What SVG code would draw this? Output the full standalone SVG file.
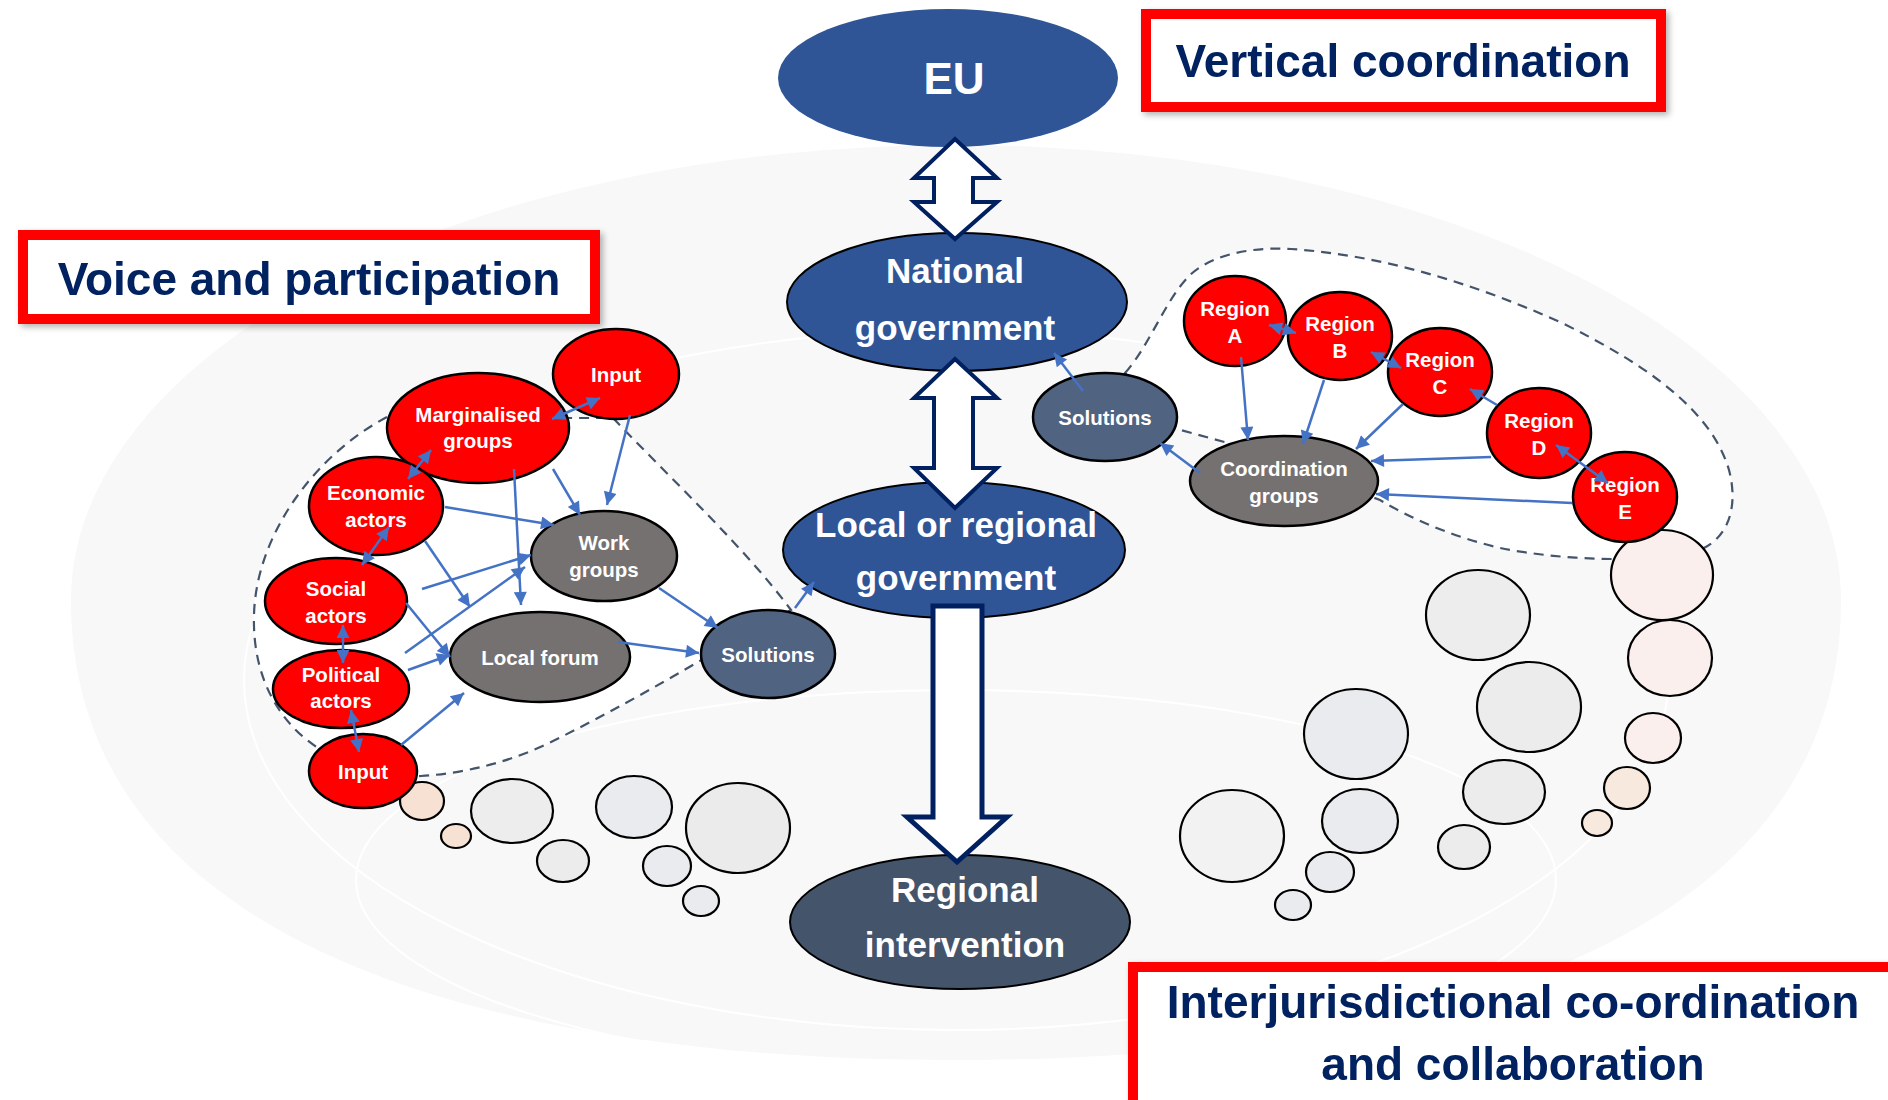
<svg xmlns="http://www.w3.org/2000/svg" width="1888" height="1100" viewBox="0 0 1888 1100">
  <style>
    .title { font-family: "Liberation Sans", Arial, sans-serif; font-weight: bold; font-size: 46px; fill: #002060; text-anchor: middle; }
    .big { font-family: "Liberation Sans", Arial, sans-serif; font-weight: bold; font-size: 35px; fill: #ffffff; text-anchor: middle; }
    .sm { font-family: "Liberation Sans", Arial, sans-serif; font-weight: bold; font-size: 20.5px; fill: #ffffff; text-anchor: middle; }
    .red { fill: #ff0000; stroke: #000000; stroke-width: 2.5; }
    .grey { fill: #767171; stroke: #000000; stroke-width: 2.5; }
    .sol { fill: #506380; stroke: #000000; stroke-width: 2.5; }
    .gov { fill: #2f5597; stroke: #000000; stroke-width: 2; }
    .box { fill: #ffffff; stroke: #ff0000; stroke-width: 10; }
    .blk { fill: #ffffff; stroke: #002060; stroke-width: 4; stroke-linejoin: miter; }
    .c { stroke: #4472c4; stroke-width: 2.5; fill: none; marker-end: url(#ah); }
    .d { stroke: #4472c4; stroke-width: 2.5; fill: none; marker-end: url(#ah); marker-start: url(#ah); }
    .dash { fill: #ffffff; stroke: #44546a; stroke-width: 2.2; stroke-dasharray: 10 7; }
    .ring { fill: none; stroke: #ffffff; stroke-width: 2; }
    .bg { stroke: #000000; stroke-width: 2.2; }
  </style>
  <defs>
    <marker id="ah" viewBox="0 0 10 10" refX="10" refY="5" markerWidth="16" markerHeight="13" markerUnits="userSpaceOnUse" orient="auto-start-reverse">
      <path d="M0,0 L10,5 L0,10 Z" fill="#4472c4"/>
    </marker>
    <filter id="shadow" x="-10%" y="-20%" width="120%" height="150%">
      <feDropShadow dx="3" dy="3" stdDeviation="3" flood-color="#000000" flood-opacity="0.3"/>
    </filter>
  </defs>

  <rect x="0" y="0" width="1888" height="1100" fill="#ffffff"/>

  <!-- background -->
  <g id="background">
    <path d="M71,600 A885,455 0 0 1 1841,600 C1841,950 1412,1060 956,1060 C500,1060 71,950 71,600 Z" fill="#f8f8f8"/>
    <ellipse class="ring" cx="956" cy="680" rx="712" ry="350"/>
    <ellipse class="ring" cx="956" cy="880" rx="600" ry="190"/>
  </g>

  <!-- cluster outlines -->
  <g id="cluster-outlines">
    <path class="dash" d="M387,417 C315,455 256,535 254,615 C252,680 282,730 330,755 C360,771 390,778 421,776 C470,773 512,760 545,745 C600,718 650,690 698,662 L791,610 C745,548 675,483 613,418 L560,418 Z"/>
    <path class="dash" d="M1125,373 C1150,345 1165,300 1190,275 C1215,252 1258,247 1291,249 C1380,255 1470,282 1560,322 C1650,366 1712,412 1729,470 C1740,512 1725,545 1690,553 C1640,563 1560,560 1500,548 C1450,536 1410,518 1380,500 L1228,443 L1177,429 Z"/>
  </g>

  <!-- bubbles -->
  <g id="bubbles" class="bg">
    <ellipse cx="422" cy="801" rx="22" ry="19" fill="#f6e1d3"/>
    <ellipse cx="456" cy="836" rx="15" ry="12" fill="#f6e1d3"/>
    <ellipse cx="512" cy="811" rx="41" ry="32" fill="#ededed"/>
    <ellipse cx="563" cy="861" rx="26" ry="21" fill="#ececec"/>
    <ellipse cx="634" cy="807" rx="38" ry="31" fill="#e9ebef"/>
    <ellipse cx="667" cy="866" rx="24" ry="20" fill="#e9ebef"/>
    <ellipse cx="701" cy="901" rx="18" ry="15" fill="#e9ebef"/>
    <ellipse cx="738" cy="828" rx="52" ry="45" fill="#ebebeb"/>

    <ellipse cx="1662" cy="575" rx="51" ry="45" fill="#fbefee"/>
    <ellipse cx="1670" cy="658" rx="42" ry="38" fill="#fbefee"/>
    <ellipse cx="1653" cy="738" rx="28" ry="25" fill="#fbefee"/>
    <ellipse cx="1627" cy="788" rx="23" ry="21" fill="#f8e9de"/>
    <ellipse cx="1597" cy="823" rx="15" ry="13" fill="#f8e9de"/>
    <ellipse cx="1478" cy="615" rx="52" ry="45" fill="#ededed"/>
    <ellipse cx="1529" cy="707" rx="52" ry="45" fill="#ececec"/>
    <ellipse cx="1504" cy="792" rx="41" ry="32" fill="#ececec"/>
    <ellipse cx="1464" cy="847" rx="26" ry="22" fill="#ececec"/>
    <ellipse cx="1356" cy="734" rx="52" ry="45" fill="#e9ebef"/>
    <ellipse cx="1360" cy="821" rx="38" ry="32" fill="#e9ebef"/>
    <ellipse cx="1330" cy="872" rx="24" ry="20" fill="#e9ebef"/>
    <ellipse cx="1293" cy="905" rx="18" ry="15" fill="#e9ebef"/>
    <ellipse cx="1232" cy="836" rx="52" ry="46" fill="#f2f2f2"/>
  </g>

  <!-- title boxes -->
  <g id="title-vertical" filter="url(#shadow)">
    <rect class="box" x="1146" y="14" width="515" height="93"/>
    <text class="title" x="1403" y="77">Vertical coordination</text>
  </g>
  <g id="title-voice" filter="url(#shadow)">
    <rect class="box" x="23" y="235" width="572" height="84"/>
    <text class="title" x="309" y="295">Voice and participation</text>
  </g>
  <g id="title-inter" filter="url(#shadow)">
    <rect class="box" x="1133" y="967" width="800" height="200"/>
    <text class="title" x="1513" y="1018">Interjurisdictional co-ordination</text>
    <text class="title" x="1513" y="1080">and collaboration</text>
  </g>

  <!-- central column -->
  <g id="node-eu">
    <ellipse cx="948" cy="78" rx="170" ry="69" fill="#2f5597"/>
    <text class="big" x="954" y="94" style="font-size:44px">EU</text>
  </g>
  <g id="node-national">
    <ellipse class="gov" cx="957" cy="302" rx="170" ry="69"/>
    <text class="big" x="955" y="283">National</text>
    <text class="big" x="955" y="340">government</text>
  </g>
  <g id="node-local-gov">
    <ellipse class="gov" cx="954" cy="550" rx="171" ry="68"/>
    <text class="big" x="956" y="537">Local or regional</text>
    <text class="big" x="956" y="590">government</text>
  </g>
  <g id="node-regional-intervention">
    <ellipse cx="960" cy="922" rx="170" ry="67" fill="#44546a" stroke="#000000" stroke-width="2"/>
    <text class="big" x="965" y="902">Regional</text>
    <text class="big" x="965" y="957">intervention</text>
  </g>

  <!-- left cluster -->
  <g id="node-input-top">
    <ellipse class="red" cx="616" cy="374" rx="63" ry="45"/>
    <text class="sm" x="616" y="382">Input</text>
  </g>
  <g id="node-marginalised">
    <ellipse class="red" cx="478" cy="428" rx="91" ry="55"/>
    <text class="sm" x="478" y="422">Marginalised</text>
    <text class="sm" x="478" y="448">groups</text>
  </g>
  <g id="node-economic">
    <ellipse class="red" cx="376" cy="506" rx="67" ry="49"/>
    <text class="sm" x="376" y="500">Economic</text>
    <text class="sm" x="376" y="527">actors</text>
  </g>
  <g id="node-social">
    <ellipse class="red" cx="336" cy="601" rx="71" ry="43"/>
    <text class="sm" x="336" y="596">Social</text>
    <text class="sm" x="336" y="623">actors</text>
  </g>
  <g id="node-political">
    <ellipse class="red" cx="341" cy="689" rx="68" ry="39"/>
    <text class="sm" x="341" y="682">Political</text>
    <text class="sm" x="341" y="708">actors</text>
  </g>
  <g id="node-input-bottom">
    <ellipse class="red" cx="363" cy="771" rx="54" ry="37"/>
    <text class="sm" x="363" y="779">Input</text>
  </g>
  <g id="node-work-groups">
    <ellipse class="grey" cx="604" cy="556" rx="73" ry="45"/>
    <text class="sm" x="604" y="550">Work</text>
    <text class="sm" x="604" y="577">groups</text>
  </g>
  <g id="node-local-forum">
    <ellipse class="grey" cx="540" cy="657" rx="90" ry="45"/>
    <text class="sm" x="540" y="665">Local forum</text>
  </g>
  <g id="node-solutions-left">
    <ellipse class="sol" cx="768" cy="654" rx="67" ry="44"/>
    <text class="sm" x="768" y="662">Solutions</text>
  </g>

  <!-- right cluster -->
  <g id="node-solutions-right">
    <ellipse class="sol" cx="1105" cy="417" rx="72" ry="44"/>
    <text class="sm" x="1105" y="425">Solutions</text>
  </g>
  <g id="node-coordination">
    <ellipse class="grey" cx="1284" cy="481" rx="94" ry="45"/>
    <text class="sm" x="1284" y="476">Coordination</text>
    <text class="sm" x="1284" y="503">groups</text>
  </g>
  <g id="node-region-a">
    <ellipse class="red" cx="1235" cy="321" rx="51" ry="45"/>
    <text class="sm" x="1235" y="316">Region</text>
    <text class="sm" x="1235" y="343">A</text>
  </g>
  <g id="node-region-b">
    <ellipse class="red" cx="1340" cy="336" rx="52" ry="44"/>
    <text class="sm" x="1340" y="331">Region</text>
    <text class="sm" x="1340" y="358">B</text>
  </g>
  <g id="node-region-c">
    <ellipse class="red" cx="1440" cy="372" rx="52" ry="44"/>
    <text class="sm" x="1440" y="367">Region</text>
    <text class="sm" x="1440" y="394">C</text>
  </g>
  <g id="node-region-d">
    <ellipse class="red" cx="1539" cy="433" rx="52" ry="45"/>
    <text class="sm" x="1539" y="428">Region</text>
    <text class="sm" x="1539" y="455">D</text>
  </g>
  <g id="node-region-e">
    <ellipse class="red" cx="1625" cy="497" rx="52" ry="45"/>
    <text class="sm" x="1625" y="492">Region</text>
    <text class="sm" x="1625" y="519">E</text>
  </g>

  <!-- connectors -->
  <g id="connectors">
    <!-- block arrows -->
    <polygon class="blk" points="955,139 997,178 973,178 973,202 997,202 955,239 914,202 934,202 934,178 914,178"/>
    <polygon class="blk" points="955,359 997,398 973,398 973,468 997,468 955,508 914,468 934,468 934,398 914,398"/>
    <polygon class="blk" style="stroke-width:5" points="933,606 982,606 982,817 1007,817 957,862 907,817 933,817"/>

    <!-- left cluster -->
    <line class="d" x1="552" y1="419" x2="600" y2="398"/>
    <line class="d" x1="408" y1="479" x2="431" y2="450"/>
    <line class="d" x1="362" y1="565" x2="389" y2="527"/>
    <line class="d" x1="343" y1="663" x2="343" y2="625"/>
    <line class="d" x1="359" y1="752" x2="351" y2="710"/>
    <line class="c" x1="630" y1="415" x2="607" y2="505"/>
    <line class="c" x1="553" y1="469" x2="580" y2="515"/>
    <line class="c" x1="514" y1="469" x2="521" y2="605"/>
    <line class="c" x1="445" y1="507" x2="554" y2="525"/>
    <line class="c" x1="425" y1="541" x2="470" y2="607"/>
    <line class="c" x1="422" y1="589" x2="531" y2="555"/>
    <line class="c" x1="406" y1="603" x2="450" y2="657"/>
    <line class="c" x1="405" y1="653" x2="525" y2="567"/>
    <line class="c" x1="408" y1="670" x2="450" y2="655"/>
    <line class="c" x1="401" y1="745" x2="464" y2="693"/>
    <line class="c" x1="659" y1="588" x2="718" y2="628"/>
    <line class="c" x1="618" y1="642" x2="699" y2="653"/>
    <line class="c" x1="795" y1="608" x2="814" y2="582"/>

    <!-- right cluster -->
    <line class="d" x1="1269" y1="325" x2="1296" y2="333"/>
    <line class="d" x1="1371" y1="352" x2="1401" y2="368"/>
    <line class="c" x1="1497" y1="405" x2="1470" y2="389"/>
    <line class="d" x1="1556" y1="445" x2="1608" y2="483"/>
    <line class="c" x1="1241" y1="357" x2="1248" y2="440"/>
    <line class="c" x1="1324" y1="380" x2="1303" y2="444"/>
    <line class="c" x1="1403" y1="404" x2="1356" y2="449"/>
    <line class="c" x1="1491" y1="457" x2="1371" y2="461"/>
    <line class="c" x1="1572" y1="503" x2="1376" y2="494"/>
    <line class="c" x1="1200" y1="473" x2="1160" y2="443"/>
    <line class="c" x1="1083" y1="391" x2="1054" y2="353"/>
  </g>
</svg>
